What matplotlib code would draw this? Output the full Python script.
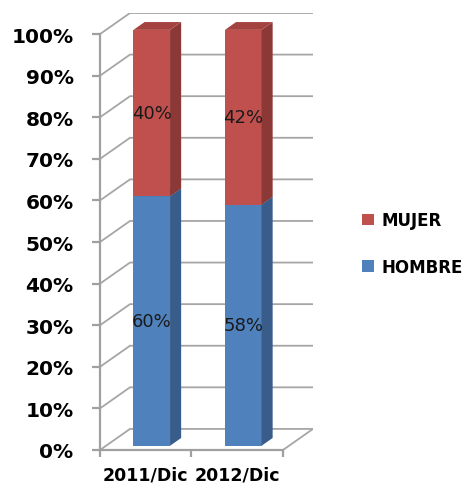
import matplotlib
matplotlib.use("Agg")
import matplotlib.pyplot as plt
from matplotlib.patches import Polygon, Patch

# -----------------------
# Data
# -----------------------
categories = ["2011/Dic", "2012/Dic"]
hombre = [60, 58]
mujer = [40, 42]
y_ticks = [0, 10, 20, 30, 40, 50, 60, 70, 80, 90, 100]
y_tick_labels = [f"{v}%" for v in y_ticks]

# colours (front, side, top)
RED = ("#C0504D", "#8C3836", "#A4423F")
BLUE = ("#4F81BD", "#385D8A", "#44709F")
GRID = "#A6A6A6"

# pseudo 3d depth in data units
DX = 0.328
DY = 5.07
BAR_W = 0.40
D0, D1 = 0.2, 0.57


def draw_box(ax, x_left, y_bottom, y_top, colors):
    front, side, top = colors
    x_right = x_left + BAR_W
    ox0, oy0 = D0 * DX, D0 * DY
    ox1, oy1 = D1 * DX, D1 * DY
    # front face
    ax.add_patch(Polygon([
        (x_left + ox0, y_bottom + oy0), (x_right + ox0, y_bottom + oy0),
        (x_right + ox0, y_top + oy0), (x_left + ox0, y_top + oy0)],
        closed=True, facecolor=front, edgecolor="none", zorder=3))
    # side face
    ax.add_patch(Polygon([
        (x_right + ox0, y_bottom + oy0), (x_right + ox1, y_bottom + oy1),
        (x_right + ox1, y_top + oy1), (x_right + ox0, y_top + oy0)],
        closed=True, facecolor=side, edgecolor="none", zorder=3))
    # top face
    ax.add_patch(Polygon([
        (x_left + ox0, y_top + oy0), (x_right + ox0, y_top + oy0),
        (x_right + ox1, y_top + oy1), (x_left + ox1, y_top + oy1)],
        closed=True, facecolor=top, edgecolor="none", zorder=3))


def main():
    fig = plt.figure(figsize=(4.64, 4.89), dpi=100)
    ax = fig.add_axes([100 / 464, 38 / 489, 213 / 464, 437 / 489])
    n = len(categories)
    ax.set_xlim(0, n + DX)
    ax.set_ylim(0, 100 + DY)

    # -----------------------
    # Walls / gridlines
    # -----------------------
    for v in y_ticks:
        ax.plot([0, DX, n + DX], [v, v + DY, v + DY], color=GRID, lw=1.3, zorder=1)
    ax.plot([n, n + DX], [0, DY], color=GRID, lw=1.3, zorder=1)

    # -----------------------
    # Bars
    # -----------------------
    for i in range(n):
        x_left = i + 0.5 - BAR_W / 2
        draw_box(ax, x_left, 0, hombre[i], BLUE)
        draw_box(ax, x_left, hombre[i], hombre[i] + mujer[i], RED)
        cx = i + 0.5 + D0 * DX
        ax.text(cx, hombre[i] / 2 + D0 * DY, f"{hombre[i]}%", ha="center",
                va="center", fontsize=13, color="#1a1a1a", zorder=4)
        ax.text(cx, hombre[i] + mujer[i] / 2 + D0 * DY, f"{mujer[i]}%",
                ha="center", va="center", fontsize=13, color="#1a1a1a", zorder=4)

    # -----------------------
    # Axes
    # -----------------------
    for s in ["top", "right"]:
        ax.spines[s].set_visible(False)
    for s in ["left", "bottom"]:
        ax.spines[s].set_color("#A0A0A0")
        ax.spines[s].set_linewidth(1.6)
    ax.spines["left"].set_bounds(0, 100)
    ax.spines["bottom"].set_bounds(0, n)

    ax.set_yticks(y_ticks)
    ax.set_yticklabels(y_tick_labels, fontsize=14.5, fontweight="bold")
    ax.tick_params(axis="y", length=6, width=1.6, color="#A0A0A0", pad=13)

    ax.set_xticks(range(n + 1))
    ax.set_xticklabels([""] * (n + 1))
    ax.set_xticks([i + 0.5 for i in range(n)], minor=True)
    ax.set_xticklabels(categories, minor=True, fontsize=12.5, fontweight="bold")
    ax.tick_params(axis="x", which="major", length=5, width=1.6, color="#A0A0A0")
    ax.tick_params(axis="x", which="minor", length=0, pad=11)

    # -----------------------
    # Legend
    # -----------------------
    handles = [Patch(facecolor=RED[0], label="MUJER"),
               Patch(facecolor=BLUE[0], label="HOMBRE")]
    fig.legend(handles=handles, loc="center left", bbox_to_anchor=(362 / 464, 0.5),
               frameon=False, prop={"weight": "bold", "size": 12},
               handlelength=0.7, handleheight=0.7, handletextpad=0.5,
               labelspacing=1.7, borderpad=0, borderaxespad=0)

    fig.savefig("out.png", dpi=100)


if __name__ == "__main__":
    main()
